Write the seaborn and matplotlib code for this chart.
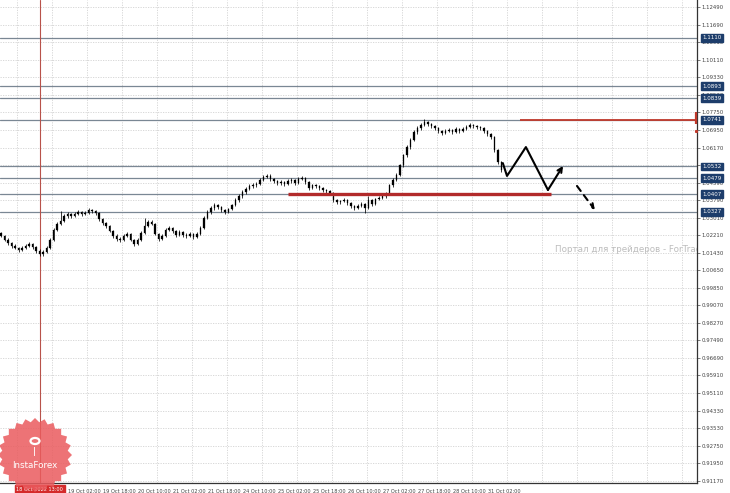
import numpy as np
import pandas as pd
import matplotlib
matplotlib.use("Agg")
import matplotlib.pyplot as plt
from matplotlib.patches import Polygon, Circle
import seaborn as sns

# ---- data (EURUSD-like H1 bars) ----
closes = [1.0219, 1.0201, 1.0187, 1.0174, 1.0165, 1.0156, 1.0165, 1.0174, 1.0183, 1.0169,
          1.0151, 1.0138, 1.0147, 1.0165, 1.0201, 1.0246, 1.0273, 1.0286, 1.0309, 1.0318,
          1.0309, 1.0318, 1.0327, 1.0318, 1.0322, 1.0336, 1.0331, 1.0322, 1.0295, 1.0277,
          1.0264, 1.0241, 1.0219, 1.0205, 1.0201, 1.0219, 1.0228, 1.0201, 1.0183, 1.0201,
          1.0232, 1.0264, 1.0282, 1.0273, 1.0228, 1.0205, 1.0219, 1.0246, 1.0255, 1.0241,
          1.0223, 1.0237, 1.0223, 1.0219, 1.0228, 1.0214, 1.0228, 1.0255, 1.0300, 1.0327,
          1.0345, 1.0358, 1.0349, 1.0336, 1.0327, 1.0340, 1.0358, 1.0381, 1.0399, 1.0417,
          1.0430, 1.0444, 1.0448, 1.0453, 1.0471, 1.0484, 1.0489, 1.0475, 1.0466, 1.0457,
          1.0462, 1.0453, 1.0466, 1.0471, 1.0457, 1.0475, 1.0480, 1.0462, 1.0435, 1.0448,
          1.0444, 1.0435, 1.0426, 1.0421, 1.0412, 1.0381, 1.0371, 1.0376, 1.0381, 1.0367,
          1.0354, 1.0345, 1.0354, 1.0363, 1.0345, 1.0381, 1.0363, 1.0385, 1.0390, 1.0399,
          1.0408, 1.0448, 1.0471, 1.0493, 1.0538, 1.0583, 1.0619, 1.0651, 1.0687, 1.0705,
          1.0718, 1.0731, 1.0722, 1.0713, 1.0705, 1.0691, 1.0682, 1.0691, 1.0696, 1.0687,
          1.0701, 1.0691, 1.0701, 1.0709, 1.0718, 1.0713, 1.0709, 1.0705, 1.0691, 1.0678,
          1.0664, 1.0606, 1.0552, 1.0516]
highs = [1.0238, 1.0225, 1.0209, 1.0193, 1.0181, 1.0171, 1.0172, 1.0183, 1.0192, 1.0188,
         1.0175, 1.0158, 1.0156, 1.0172, 1.0208, 1.0253, 1.0281, 1.0330, 1.0316, 1.0326,
         1.0324, 1.0325, 1.0335, 1.0333, 1.0330, 1.0344, 1.0342, 1.0337, 1.0328, 1.0301,
         1.0284, 1.0270, 1.0247, 1.0226, 1.0213, 1.0226, 1.0237, 1.0234, 1.0207, 1.0208,
         1.0240, 1.0302, 1.0290, 1.0289, 1.0279, 1.0234, 1.0227, 1.0253, 1.0264, 1.0261,
         1.0247, 1.0244, 1.0243, 1.0230, 1.0235, 1.0234, 1.0236, 1.0262, 1.0308, 1.0334,
         1.0353, 1.0366, 1.0364, 1.0355, 1.0342, 1.0347, 1.0365, 1.0388, 1.0407, 1.0424,
         1.0438, 1.0452, 1.0456, 1.0461, 1.0479, 1.0492, 1.0498, 1.0496, 1.0482, 1.0473,
         1.0470, 1.0468, 1.0474, 1.0479, 1.0477, 1.0483, 1.0489, 1.0486, 1.0468, 1.0455,
         1.0454, 1.0450, 1.0441, 1.0432, 1.0427, 1.0418, 1.0387, 1.0383, 1.0389, 1.0387,
         1.0373, 1.0360, 1.0361, 1.0371, 1.0369, 1.0400, 1.0387, 1.0392, 1.0398, 1.0406,
         1.0415, 1.0455, 1.0478, 1.0501, 1.0545, 1.0590, 1.0627, 1.0659, 1.0695, 1.0713,
         1.0727, 1.0745, 1.0738, 1.0729, 1.0720, 1.0711, 1.0697, 1.0699, 1.0704, 1.0702,
         1.0709, 1.0707, 1.0708, 1.0717, 1.0726, 1.0725, 1.0719, 1.0716, 1.0711, 1.0697,
         1.0684, 1.0670, 1.0612, 1.0558]
lows = [1.0212, 1.0195, 1.0180, 1.0166, 1.0158, 1.0147, 1.0150, 1.0160, 1.0168, 1.0162,
        1.0142, 1.0128, 1.0130, 1.0140, 1.0160, 1.0196, 1.0240, 1.0266, 1.0280, 1.0301,
        1.0302, 1.0303, 1.0312, 1.0311, 1.0313, 1.0316, 1.0324, 1.0315, 1.0288, 1.0270,
        1.0256, 1.0235, 1.0211, 1.0197, 1.0193, 1.0195, 1.0212, 1.0194, 1.0175, 1.0177,
        1.0196, 1.0226, 1.0257, 1.0266, 1.0221, 1.0197, 1.0199, 1.0213, 1.0240, 1.0234,
        1.0216, 1.0217, 1.0216, 1.0211, 1.0213, 1.0207, 1.0208, 1.0222, 1.0249, 1.0294,
        1.0320, 1.0338, 1.0342, 1.0329, 1.0319, 1.0321, 1.0334, 1.0352, 1.0374, 1.0392,
        1.0410, 1.0424, 1.0437, 1.0441, 1.0447, 1.0465, 1.0478, 1.0468, 1.0458, 1.0450,
        1.0450, 1.0446, 1.0447, 1.0459, 1.0450, 1.0451, 1.0469, 1.0455, 1.0428, 1.0429,
        1.0437, 1.0428, 1.0419, 1.0414, 1.0405, 1.0374, 1.0364, 1.0365, 1.0370, 1.0360,
        1.0347, 1.0338, 1.0339, 1.0348, 1.0322, 1.0340, 1.0356, 1.0358, 1.0379, 1.0384,
        1.0392, 1.0402, 1.0441, 1.0465, 1.0487, 1.0531, 1.0576, 1.0612, 1.0645, 1.0680,
        1.0698, 1.0712, 1.0715, 1.0706, 1.0698, 1.0684, 1.0675, 1.0676, 1.0685, 1.0680,
        1.0681, 1.0684, 1.0685, 1.0695, 1.0703, 1.0706, 1.0702, 1.0698, 1.0684, 1.0671,
        1.0657, 1.0599, 1.0545, 1.0509]
first_open = 1.0230

levels = [1.1110, 1.0893, 1.0839, 1.0741, 1.0532, 1.0479, 1.0407, 1.0327]
level_labels = ["1.1110", "1.0893", "1.0839", "1.0741", "1.0532", "1.0479", "1.0407", "1.0327"]

price_ticks = [1.12490, 1.11690, 1.10910, 1.10110, 1.09330, 1.08530, 1.07750, 1.06950,
               1.06170, 1.05370, 1.04590, 1.03790, 1.03010, 1.02210, 1.01430, 1.00650,
               0.99850, 0.99070, 0.98270, 0.97490, 0.96690, 0.95910, 0.95110, 0.94330,
               0.93530, 0.92750, 0.91950, 0.91170]

time_ticks = [19.1, 29.1, 39.1, 49.1, 59.1, 69.1, 79.1, 89.1, 99.1, 109.1, 119.1, 129.1, 139.1]
time_labels = ["19 Oct 02:00", "19 Oct 18:00", "20 Oct 10:00", "21 Oct 02:00", "21 Oct 18:00",
               "24 Oct 10:00", "25 Oct 02:00", "25 Oct 18:00", "26 Oct 10:00", "27 Oct 02:00",
               "27 Oct 18:00", "28 Oct 10:00", "31 Oct 02:00"]

# forecast path drawn by the analyst
path_x = [143.4, 144.6, 150.0, 156.3]
path_y = [1.0547, 1.0489, 1.0619, 1.0426]
up_arrow = [(156.3, 1.0426), (160.6, 1.0534)]
down_arrow = [(164.6, 1.0444), (169.7, 1.0336)]
support_red = (82.0, 157.1, 1.0407)
resist_red = (148.3, 199.0, 1.0741)
cursor_x = 11.1

# ---- figure ----
sns.set_style("white")
plt.rcParams["font.family"] = ["DejaVu Sans"]
fig = plt.figure(figsize=(7.3, 4.93), dpi=100)
ax = fig.add_axes([0.0, 0.0203, 0.9548, 0.9797])

df = pd.DataFrame({"close": closes, "high": highs, "low": lows})
df["open"] = [first_open] + closes[:-1]
df["i"] = np.arange(len(df))

xmin, xmax = -0.3, 198.9
ax.set_xlim(xmin, xmax)
ax.set_ylim(0.9107, 1.1281)

# grid
ax.set_yticks(price_ticks)
ax.set_xticks(time_ticks)
ax.set_xticks([4.6 + 10 * k for k in range(20)], minor=True)
ax.grid(False)
for t in price_ticks:
    ax.axhline(t, color="#d2d2d2", lw=0.6, ls=(0, (1.5, 1.5)), zorder=0)
for t in ax.get_xticks(minor=True):
    ax.axvline(t, color="#d2d2d2", lw=0.6, ls=(0, (1.5, 1.5)), zorder=0)

# level lines
for lv in levels:
    ax.axhline(lv, color="#7a8794", lw=0.9, zorder=1)

# cursor line
ax.axvline(cursor_x, color="#b8524a", lw=0.8, zorder=1)

# candles
ax.vlines(df["i"], df["low"], df["high"], color="black", lw=0.55, zorder=3)
ax.bar(df["i"], df["close"] - df["open"], bottom=df["open"], width=0.5,
       color="black", edgecolor="black", lw=0.2, zorder=4)

# red support / resistance marks
ax.hlines(support_red[2], support_red[0], support_red[1], color="#b22a2a", lw=2.4, zorder=5)
ax.hlines(resist_red[2], resist_red[0], resist_red[1], color="#c0392b", lw=1.3, zorder=5)
ax.vlines(xmax - 0.3, 1.0723, 1.0777, color="#c0392b", lw=1.6, zorder=6, clip_on=False)
ax.plot([xmax - 0.3], [1.0691], marker="s", ms=1.2, color="#c0392b", zorder=6, clip_on=False)

# forecast zigzag
sns.lineplot(x=path_x, y=path_y, sort=False, color="black", lw=1.5, ax=ax, zorder=6)
ax.annotate("", xy=up_arrow[1], xytext=up_arrow[0],
            arrowprops=dict(arrowstyle="->", color="black", lw=1.5,
                            mutation_scale=8, shrinkA=0, shrinkB=0), zorder=6)
ax.annotate("", xy=down_arrow[1], xytext=down_arrow[0],
            arrowprops=dict(arrowstyle="->", color="black", lw=1.5, ls=(0, (3, 2.5)),
                            mutation_scale=8, shrinkA=0, shrinkB=0), zorder=6)

# watermark
ax.text(158.3, 1.0158, "Портал для трейдеров - ForTrader.org", fontsize=6.3,
        color="#bdbdbd", va="center", ha="left", clip_on=True, zorder=2)

# axes styling
for s in ["left", "top"]:
    ax.spines[s].set_visible(False)
for s in ["right", "bottom"]:
    ax.spines[s].set_color("#333333")
    ax.spines[s].set_linewidth(0.9)
ax.yaxis.tick_right()
ax.set_yticklabels([f"{t:.5f}" for t in price_ticks])
ax.set_xticklabels(time_labels)
ax.tick_params(axis="y", labelsize=3.9, colors="#444444", length=2.5, width=0.5, pad=1)
ax.tick_params(axis="x", which="major", labelsize=3.6, colors="#444444", length=2.5,
               width=0.5, pad=1.5)
ax.tick_params(axis="x", which="minor", length=0)
for lab in ax.get_xticklabels():
    lab.set_horizontalalignment("left")

# level price boxes on the right axis
for lv, lab in zip(levels, level_labels):
    ax.text(1.008, lv, lab, transform=ax.get_yaxis_transform(), fontsize=4.0,
            color="white", va="center", ha="left", zorder=10, clip_on=False,
            bbox=dict(boxstyle="square,pad=0.25", fc="#1d3d6b", ec="#1d3d6b"))

# cursor time box on the time axis
ax.text(cursor_x, -0.008, "18 Oct 2022 13:00", transform=ax.get_xaxis_transform(),
        fontsize=3.6, color="white", va="top", ha="center", clip_on=False, zorder=10,
        bbox=dict(boxstyle="square,pad=0.35", fc="#d42b2b", ec="#d42b2b"))

# InstaForex badge
cx, cy = 35, 455
ang = np.linspace(0, 2 * np.pi, 49)[:-1]
rad = np.where(np.arange(48) % 2 == 0, 37, 33)
px = cx + rad * np.cos(ang)
py = cy + rad * np.sin(ang)
star = Polygon(np.column_stack([px / 730, 1 - py / 493]), closed=True,
               transform=fig.transFigure, fc="#ea5b5e", ec="none", alpha=0.85, zorder=20)
fig.add_artist(star)
fig.add_artist(Circle((cx / 730, 1 - 441 / 493), 4.5 / 730, transform=fig.transFigure,
                      fc="none", ec="white", lw=1.6, zorder=21))
fig.text(cx / 730, 1 - 452 / 493, "|", color="white", fontsize=6, ha="center",
         va="center", zorder=21, fontweight="bold")
fig.text(cx / 730, 1 - 465 / 493, "InstaForex", color="white", fontsize=6.3,
         ha="center", va="center", zorder=21)

fig.savefig("out.png", dpi=100)
